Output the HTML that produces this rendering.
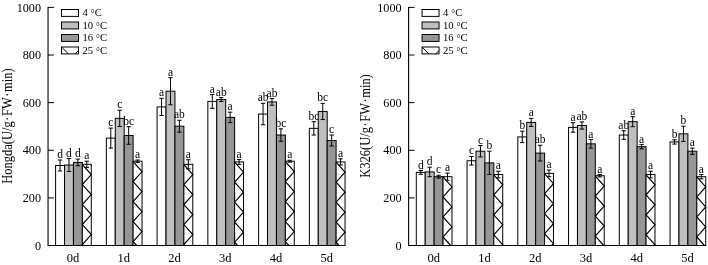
<!DOCTYPE html>
<html><head><meta charset="utf-8"><title>chart</title>
<style>html,body{margin:0;padding:0;background:#fff}svg{display:block}text{font-family:"Liberation Serif",serif;fill:#000}</style></head><body>
<svg width="708" height="265" viewBox="0 0 708 265">
<rect width="708" height="265" fill="#fff"/>
<rect x="55.60" y="165.50" width="8.92" height="80.00" fill="#ffffff" stroke="#000" stroke-width="1"/>
<path d="M60.06 160.02V170.97M57.86 160.02h4.4M57.86 170.97h4.4" stroke="#000" stroke-width="1" fill="none"/>
<text x="60.06" y="158.02" font-size="11.5" text-anchor="middle">d</text>
<rect x="64.52" y="165.02" width="8.92" height="80.48" fill="#c0c0c0" stroke="#000" stroke-width="1"/>
<path d="M68.98 158.59V171.45M66.78 158.59h4.4M66.78 171.45h4.4" stroke="#000" stroke-width="1" fill="none"/>
<text x="68.98" y="156.59" font-size="11.5" text-anchor="middle">d</text>
<rect x="73.44" y="162.40" width="8.92" height="83.10" fill="#969696" stroke="#000" stroke-width="1"/>
<path d="M77.90 159.07V165.74M75.70 159.07h4.4M75.70 165.74h4.4" stroke="#000" stroke-width="1" fill="none"/>
<text x="77.90" y="157.07" font-size="11.5" text-anchor="middle">d</text>
<rect x="82.36" y="164.31" width="8.92" height="81.19" fill="#ffffff" stroke="#000" stroke-width="1"/>
<polyline fill="none" stroke="#000" stroke-width="1.15" points="82.36,164.61 91.28,174.61 82.36,184.61 91.28,194.61 82.36,204.61 91.28,214.61 82.36,224.61 91.28,234.61 82.36,244.61 83.16,245.50"/>
<path d="M86.82 161.21V167.40M84.62 161.21h4.4M84.62 167.40h4.4" stroke="#000" stroke-width="1" fill="none"/>
<text x="86.82" y="159.21" font-size="11.5" text-anchor="middle">a</text>
<text x="73.04" y="261.5" font-size="12.5" text-anchor="middle">0d</text>
<rect x="106.35" y="138.12" width="8.92" height="107.38" fill="#ffffff" stroke="#000" stroke-width="1"/>
<path d="M110.81 128.12V148.12M108.61 128.12h4.4M108.61 148.12h4.4" stroke="#000" stroke-width="1" fill="none"/>
<text x="110.81" y="126.12" font-size="11.5" text-anchor="middle">c</text>
<rect x="115.27" y="118.35" width="8.92" height="127.15" fill="#c0c0c0" stroke="#000" stroke-width="1"/>
<path d="M119.73 110.26V126.45M117.53 110.26h4.4M117.53 126.45h4.4" stroke="#000" stroke-width="1" fill="none"/>
<text x="119.73" y="108.26" font-size="11.5" text-anchor="middle">c</text>
<rect x="124.19" y="135.50" width="8.92" height="110.00" fill="#969696" stroke="#000" stroke-width="1"/>
<path d="M128.65 126.69V144.31M126.45 126.69h4.4M126.45 144.31h4.4" stroke="#000" stroke-width="1" fill="none"/>
<text x="128.65" y="124.69" font-size="11.5" text-anchor="middle">bc</text>
<rect x="133.11" y="161.21" width="8.92" height="84.29" fill="#ffffff" stroke="#000" stroke-width="1"/>
<polyline fill="none" stroke="#000" stroke-width="1.15" points="133.11,161.51 142.03,171.51 133.11,181.51 142.03,191.51 133.11,201.51 142.03,211.51 133.11,221.51 142.03,231.51 133.11,241.51 136.67,245.50"/>
<path d="M137.57 160.02V162.40M135.37 160.02h4.4M135.37 162.40h4.4" stroke="#000" stroke-width="1" fill="none"/>
<text x="137.57" y="158.02" font-size="11.5" text-anchor="middle">a</text>
<text x="123.79" y="261.5" font-size="12.5" text-anchor="middle">1d</text>
<rect x="157.10" y="106.93" width="8.92" height="138.57" fill="#ffffff" stroke="#000" stroke-width="1"/>
<path d="M161.56 98.35V115.50M159.36 98.35h4.4M159.36 115.50h4.4" stroke="#000" stroke-width="1" fill="none"/>
<text x="161.56" y="96.35" font-size="11.5" text-anchor="middle">a</text>
<rect x="166.02" y="91.21" width="8.92" height="154.29" fill="#c0c0c0" stroke="#000" stroke-width="1"/>
<path d="M170.48 77.64V104.78M168.28 77.64h4.4M168.28 104.78h4.4" stroke="#000" stroke-width="1" fill="none"/>
<text x="170.48" y="75.64" font-size="11.5" text-anchor="middle">a</text>
<rect x="174.94" y="126.21" width="8.92" height="119.29" fill="#969696" stroke="#000" stroke-width="1"/>
<path d="M179.40 120.26V132.16M177.20 120.26h4.4M177.20 132.16h4.4" stroke="#000" stroke-width="1" fill="none"/>
<text x="179.40" y="118.26" font-size="11.5" text-anchor="middle">ab</text>
<rect x="183.86" y="164.31" width="8.92" height="81.19" fill="#ffffff" stroke="#000" stroke-width="1"/>
<polyline fill="none" stroke="#000" stroke-width="1.15" points="183.86,164.61 192.78,174.61 183.86,184.61 192.78,194.61 183.86,204.61 192.78,214.61 183.86,224.61 192.78,234.61 183.86,244.61 184.66,245.50"/>
<path d="M188.32 159.78V168.83M186.12 159.78h4.4M186.12 168.83h4.4" stroke="#000" stroke-width="1" fill="none"/>
<text x="188.32" y="157.78" font-size="11.5" text-anchor="middle">a</text>
<text x="174.54" y="261.5" font-size="12.5" text-anchor="middle">2d</text>
<rect x="207.85" y="101.45" width="8.92" height="144.05" fill="#ffffff" stroke="#000" stroke-width="1"/>
<path d="M212.31 94.54V108.35M210.11 94.54h4.4M210.11 108.35h4.4" stroke="#000" stroke-width="1" fill="none"/>
<text x="212.31" y="92.54" font-size="11.5" text-anchor="middle">a</text>
<rect x="216.77" y="99.54" width="8.92" height="145.96" fill="#c0c0c0" stroke="#000" stroke-width="1"/>
<path d="M221.23 97.64V101.45M219.03 97.64h4.4M219.03 101.45h4.4" stroke="#000" stroke-width="1" fill="none"/>
<text x="221.23" y="95.64" font-size="11.5" text-anchor="middle">ab</text>
<rect x="225.69" y="117.40" width="8.92" height="128.10" fill="#969696" stroke="#000" stroke-width="1"/>
<path d="M230.15 112.16V122.64M227.95 112.16h4.4M227.95 122.64h4.4" stroke="#000" stroke-width="1" fill="none"/>
<text x="230.15" y="110.16" font-size="11.5" text-anchor="middle">a</text>
<rect x="234.61" y="161.93" width="8.92" height="83.57" fill="#ffffff" stroke="#000" stroke-width="1"/>
<polyline fill="none" stroke="#000" stroke-width="1.15" points="234.61,162.23 243.53,172.23 234.61,182.23 243.53,192.23 234.61,202.23 243.53,212.23 234.61,222.23 243.53,232.23 234.61,242.23 237.53,245.50"/>
<path d="M239.07 159.55V164.31M236.87 159.55h4.4M236.87 164.31h4.4" stroke="#000" stroke-width="1" fill="none"/>
<text x="239.07" y="157.55" font-size="11.5" text-anchor="middle">a</text>
<text x="225.29" y="261.5" font-size="12.5" text-anchor="middle">3d</text>
<rect x="258.60" y="114.07" width="8.92" height="131.43" fill="#ffffff" stroke="#000" stroke-width="1"/>
<path d="M263.06 103.35V124.78M260.86 103.35h4.4M260.86 124.78h4.4" stroke="#000" stroke-width="1" fill="none"/>
<text x="263.06" y="101.35" font-size="11.5" text-anchor="middle">ab</text>
<rect x="267.52" y="101.93" width="8.92" height="143.57" fill="#c0c0c0" stroke="#000" stroke-width="1"/>
<path d="M271.98 98.59V105.26M269.78 98.59h4.4M269.78 105.26h4.4" stroke="#000" stroke-width="1" fill="none"/>
<text x="271.98" y="96.59" font-size="11.5" text-anchor="middle">ab</text>
<rect x="276.44" y="135.02" width="8.92" height="110.48" fill="#969696" stroke="#000" stroke-width="1"/>
<path d="M280.90 128.83V141.21M278.70 128.83h4.4M278.70 141.21h4.4" stroke="#000" stroke-width="1" fill="none"/>
<text x="280.90" y="126.83" font-size="11.5" text-anchor="middle">bc</text>
<rect x="285.36" y="161.21" width="8.92" height="84.29" fill="#ffffff" stroke="#000" stroke-width="1"/>
<polyline fill="none" stroke="#000" stroke-width="1.15" points="285.36,161.51 294.28,171.51 285.36,181.51 294.28,191.51 285.36,201.51 294.28,211.51 285.36,221.51 294.28,231.51 285.36,241.51 288.92,245.50"/>
<path d="M289.82 160.26V162.16M287.62 160.26h4.4M287.62 162.16h4.4" stroke="#000" stroke-width="1" fill="none"/>
<text x="289.82" y="158.26" font-size="11.5" text-anchor="middle">a</text>
<text x="276.04" y="261.5" font-size="12.5" text-anchor="middle">4d</text>
<rect x="309.35" y="128.35" width="8.92" height="117.15" fill="#ffffff" stroke="#000" stroke-width="1"/>
<path d="M313.81 121.69V135.02M311.61 121.69h4.4M311.61 135.02h4.4" stroke="#000" stroke-width="1" fill="none"/>
<text x="313.81" y="119.69" font-size="11.5" text-anchor="middle">bc</text>
<rect x="318.27" y="111.45" width="8.92" height="134.05" fill="#c0c0c0" stroke="#000" stroke-width="1"/>
<path d="M322.73 103.35V119.55M320.53 103.35h4.4M320.53 119.55h4.4" stroke="#000" stroke-width="1" fill="none"/>
<text x="322.73" y="101.35" font-size="11.5" text-anchor="middle">bc</text>
<rect x="327.19" y="140.50" width="8.92" height="105.00" fill="#969696" stroke="#000" stroke-width="1"/>
<path d="M331.65 135.02V145.97M329.45 135.02h4.4M329.45 145.97h4.4" stroke="#000" stroke-width="1" fill="none"/>
<text x="331.65" y="133.02" font-size="11.5" text-anchor="middle">c</text>
<rect x="336.11" y="161.93" width="8.92" height="83.57" fill="#ffffff" stroke="#000" stroke-width="1"/>
<polyline fill="none" stroke="#000" stroke-width="1.15" points="336.11,162.23 345.03,172.23 336.11,182.23 345.03,192.23 336.11,202.23 345.03,212.23 336.11,222.23 345.03,232.23 336.11,242.23 339.03,245.50"/>
<path d="M340.57 158.83V165.02M338.37 158.83h4.4M338.37 165.02h4.4" stroke="#000" stroke-width="1" fill="none"/>
<text x="340.57" y="156.83" font-size="11.5" text-anchor="middle">a</text>
<text x="326.79" y="261.5" font-size="12.5" text-anchor="middle">5d</text>
<path d="M48.05 6.9V246.0" stroke="#000" stroke-width="1.1" fill="none"/>
<path d="M48.05 245.5H345.03" stroke="#000" stroke-width="1" fill="none"/>
<text x="41.05" y="249.60" font-size="12.2" text-anchor="end">0</text>
<path d="M48.05 197.88h5.9" stroke="#000" stroke-width="1" fill="none"/>
<text x="41.05" y="201.98" font-size="12.2" text-anchor="end">200</text>
<path d="M48.05 150.26h5.9" stroke="#000" stroke-width="1" fill="none"/>
<text x="41.05" y="154.36" font-size="12.2" text-anchor="end">400</text>
<path d="M48.05 102.64h5.9" stroke="#000" stroke-width="1" fill="none"/>
<text x="41.05" y="106.74" font-size="12.2" text-anchor="end">600</text>
<path d="M48.05 55.02h5.9" stroke="#000" stroke-width="1" fill="none"/>
<text x="41.05" y="59.12" font-size="12.2" text-anchor="end">800</text>
<path d="M48.05 7.40h5.9" stroke="#000" stroke-width="1" fill="none"/>
<text x="41.05" y="11.50" font-size="12.2" text-anchor="end">1000</text>
<text transform="translate(11.50 183.70) rotate(-90) scale(1,1.1)" font-size="12.5">Hongda(U/g<tspan dx="0.55">·</tspan><tspan dx="0.55">FW</tspan><tspan dx="0.55">·</tspan><tspan dx="0.55">min</tspan>)</text>
<rect x="61.50" y="9.50" width="17" height="6.9" fill="#ffffff" stroke="#000" stroke-width="1"/>
<text x="82.50" y="16.25" font-size="10.6">4 <tspan font-size="9.6" dx="0.2" dy="0.9">°</tspan><tspan dx="0.2" dy="-0.9">C</tspan></text>
<rect x="61.50" y="22.00" width="17" height="6.9" fill="#c0c0c0" stroke="#000" stroke-width="1"/>
<text x="82.50" y="28.75" font-size="10.6">10 <tspan font-size="9.6" dx="0.2" dy="0.9">°</tspan><tspan dx="0.2" dy="-0.9">C</tspan></text>
<rect x="61.50" y="34.50" width="17" height="6.9" fill="#969696" stroke="#000" stroke-width="1"/>
<text x="82.50" y="41.25" font-size="10.6">16 <tspan font-size="9.6" dx="0.2" dy="0.9">°</tspan><tspan dx="0.2" dy="-0.9">C</tspan></text>
<rect x="61.50" y="47.00" width="17" height="6.9" fill="#ffffff" stroke="#000" stroke-width="1"/>
<path d="M61.50 47.00l6.9 6.9M75.10 53.90l3.4 -3.4" stroke="#000" stroke-width="1" fill="none"/>
<text x="82.50" y="53.75" font-size="10.6">25 <tspan font-size="9.6" dx="0.2" dy="0.9">°</tspan><tspan dx="0.2" dy="-0.9">C</tspan></text>
<rect x="416.30" y="172.40" width="8.92" height="73.10" fill="#ffffff" stroke="#000" stroke-width="1"/>
<path d="M420.76 170.50V174.31M418.56 170.50h4.4M418.56 174.31h4.4" stroke="#000" stroke-width="1" fill="none"/>
<text x="420.76" y="168.50" font-size="11.5" text-anchor="middle">d</text>
<rect x="425.22" y="171.93" width="8.92" height="73.57" fill="#c0c0c0" stroke="#000" stroke-width="1"/>
<path d="M429.68 167.17V176.69M427.48 167.17h4.4M427.48 176.69h4.4" stroke="#000" stroke-width="1" fill="none"/>
<text x="429.68" y="165.17" font-size="11.5" text-anchor="middle">d</text>
<rect x="434.14" y="176.69" width="8.92" height="68.81" fill="#969696" stroke="#000" stroke-width="1"/>
<path d="M438.60 175.26V178.12M436.40 175.26h4.4M436.40 178.12h4.4" stroke="#000" stroke-width="1" fill="none"/>
<text x="438.60" y="173.26" font-size="11.5" text-anchor="middle">c</text>
<rect x="443.06" y="176.69" width="8.92" height="68.81" fill="#ffffff" stroke="#000" stroke-width="1"/>
<polyline fill="none" stroke="#000" stroke-width="1.15" points="443.06,176.99 451.98,186.99 443.06,196.99 451.98,206.99 443.06,216.99 451.98,226.99 443.06,236.99 450.65,245.50"/>
<path d="M447.52 173.12V180.26M445.32 173.12h4.4M445.32 180.26h4.4" stroke="#000" stroke-width="1" fill="none"/>
<text x="447.52" y="171.12" font-size="11.5" text-anchor="middle">a</text>
<text x="433.74" y="261.5" font-size="12.5" text-anchor="middle">0d</text>
<rect x="467.05" y="160.74" width="8.92" height="84.76" fill="#ffffff" stroke="#000" stroke-width="1"/>
<path d="M471.51 156.45V165.02M469.31 156.45h4.4M469.31 165.02h4.4" stroke="#000" stroke-width="1" fill="none"/>
<text x="471.51" y="154.45" font-size="11.5" text-anchor="middle">c</text>
<rect x="475.97" y="151.21" width="8.92" height="94.29" fill="#c0c0c0" stroke="#000" stroke-width="1"/>
<path d="M480.43 145.50V156.93M478.23 145.50h4.4M478.23 156.93h4.4" stroke="#000" stroke-width="1" fill="none"/>
<text x="480.43" y="143.50" font-size="11.5" text-anchor="middle">c</text>
<rect x="484.89" y="162.88" width="8.92" height="82.62" fill="#969696" stroke="#000" stroke-width="1"/>
<path d="M489.35 151.21V174.55M487.15 151.21h4.4M487.15 174.55h4.4" stroke="#000" stroke-width="1" fill="none"/>
<text x="489.35" y="149.21" font-size="11.5" text-anchor="middle">b</text>
<rect x="493.81" y="174.55" width="8.92" height="70.95" fill="#ffffff" stroke="#000" stroke-width="1"/>
<polyline fill="none" stroke="#000" stroke-width="1.15" points="493.81,174.85 502.73,184.85 493.81,194.85 502.73,204.85 493.81,214.85 502.73,224.85 493.81,234.85 502.73,244.85 502.15,245.50"/>
<path d="M498.27 171.21V177.88M496.07 171.21h4.4M496.07 177.88h4.4" stroke="#000" stroke-width="1" fill="none"/>
<text x="498.27" y="169.21" font-size="11.5" text-anchor="middle">a</text>
<text x="484.49" y="261.5" font-size="12.5" text-anchor="middle">1d</text>
<rect x="517.80" y="136.93" width="8.92" height="108.57" fill="#ffffff" stroke="#000" stroke-width="1"/>
<path d="M522.26 131.21V142.64M520.06 131.21h4.4M520.06 142.64h4.4" stroke="#000" stroke-width="1" fill="none"/>
<text x="522.26" y="129.21" font-size="11.5" text-anchor="middle">b</text>
<rect x="526.72" y="122.40" width="8.92" height="123.10" fill="#c0c0c0" stroke="#000" stroke-width="1"/>
<path d="M531.18 118.35V126.45M528.98 118.35h4.4M528.98 126.45h4.4" stroke="#000" stroke-width="1" fill="none"/>
<text x="531.18" y="116.35" font-size="11.5" text-anchor="middle">a</text>
<rect x="535.64" y="153.12" width="8.92" height="92.38" fill="#969696" stroke="#000" stroke-width="1"/>
<path d="M540.10 145.26V160.97M537.90 145.26h4.4M537.90 160.97h4.4" stroke="#000" stroke-width="1" fill="none"/>
<text x="540.10" y="143.26" font-size="11.5" text-anchor="middle">ab</text>
<rect x="544.56" y="173.36" width="8.92" height="72.14" fill="#ffffff" stroke="#000" stroke-width="1"/>
<polyline fill="none" stroke="#000" stroke-width="1.15" points="544.56,173.66 553.48,183.66 544.56,193.66 553.48,203.66 544.56,213.66 553.48,223.66 544.56,233.66 553.48,243.66 551.83,245.50"/>
<path d="M549.02 170.02V176.69M546.82 170.02h4.4M546.82 176.69h4.4" stroke="#000" stroke-width="1" fill="none"/>
<text x="549.02" y="168.02" font-size="11.5" text-anchor="middle">a</text>
<text x="535.24" y="261.5" font-size="12.5" text-anchor="middle">2d</text>
<rect x="568.55" y="127.40" width="8.92" height="118.10" fill="#ffffff" stroke="#000" stroke-width="1"/>
<path d="M573.01 122.64V132.16M570.81 122.64h4.4M570.81 132.16h4.4" stroke="#000" stroke-width="1" fill="none"/>
<text x="573.01" y="120.64" font-size="11.5" text-anchor="middle">a</text>
<rect x="577.47" y="125.50" width="8.92" height="120.00" fill="#c0c0c0" stroke="#000" stroke-width="1"/>
<path d="M581.93 121.93V129.07M579.73 121.93h4.4M579.73 129.07h4.4" stroke="#000" stroke-width="1" fill="none"/>
<text x="581.93" y="119.93" font-size="11.5" text-anchor="middle">ab</text>
<rect x="586.39" y="143.83" width="8.92" height="101.67" fill="#969696" stroke="#000" stroke-width="1"/>
<path d="M590.85 139.55V148.12M588.65 139.55h4.4M588.65 148.12h4.4" stroke="#000" stroke-width="1" fill="none"/>
<text x="590.85" y="137.55" font-size="11.5" text-anchor="middle">a</text>
<rect x="595.31" y="175.74" width="8.92" height="69.76" fill="#ffffff" stroke="#000" stroke-width="1"/>
<polyline fill="none" stroke="#000" stroke-width="1.15" points="595.31,176.04 604.23,186.04 595.31,196.04 604.23,206.04 595.31,216.04 604.23,226.04 595.31,236.04 603.75,245.50"/>
<path d="M599.77 174.55V176.93M597.57 174.55h4.4M597.57 176.93h4.4" stroke="#000" stroke-width="1" fill="none"/>
<text x="599.77" y="172.55" font-size="11.5" text-anchor="middle">a</text>
<text x="585.99" y="261.5" font-size="12.5" text-anchor="middle">3d</text>
<rect x="619.30" y="135.02" width="8.92" height="110.48" fill="#ffffff" stroke="#000" stroke-width="1"/>
<path d="M623.76 130.74V139.31M621.56 130.74h4.4M621.56 139.31h4.4" stroke="#000" stroke-width="1" fill="none"/>
<text x="623.76" y="128.74" font-size="11.5" text-anchor="middle">ab</text>
<rect x="628.22" y="121.69" width="8.92" height="123.81" fill="#c0c0c0" stroke="#000" stroke-width="1"/>
<path d="M632.68 116.69V126.69M630.48 116.69h4.4M630.48 126.69h4.4" stroke="#000" stroke-width="1" fill="none"/>
<text x="632.68" y="114.69" font-size="11.5" text-anchor="middle">a</text>
<rect x="637.14" y="146.69" width="8.92" height="98.81" fill="#969696" stroke="#000" stroke-width="1"/>
<path d="M641.60 144.55V148.83M639.40 144.55h4.4M639.40 148.83h4.4" stroke="#000" stroke-width="1" fill="none"/>
<text x="641.60" y="142.55" font-size="11.5" text-anchor="middle">a</text>
<rect x="646.06" y="174.55" width="8.92" height="70.95" fill="#ffffff" stroke="#000" stroke-width="1"/>
<polyline fill="none" stroke="#000" stroke-width="1.15" points="646.06,174.85 654.98,184.85 646.06,194.85 654.98,204.85 646.06,214.85 654.98,224.85 646.06,234.85 654.98,244.85 654.40,245.50"/>
<path d="M650.52 171.21V177.88M648.32 171.21h4.4M648.32 177.88h4.4" stroke="#000" stroke-width="1" fill="none"/>
<text x="650.52" y="169.21" font-size="11.5" text-anchor="middle">a</text>
<text x="636.74" y="261.5" font-size="12.5" text-anchor="middle">4d</text>
<rect x="670.05" y="141.93" width="8.92" height="103.57" fill="#ffffff" stroke="#000" stroke-width="1"/>
<path d="M674.51 139.78V144.07M672.31 139.78h4.4M672.31 144.07h4.4" stroke="#000" stroke-width="1" fill="none"/>
<text x="674.51" y="137.78" font-size="11.5" text-anchor="middle">b</text>
<rect x="678.97" y="133.83" width="8.92" height="111.67" fill="#c0c0c0" stroke="#000" stroke-width="1"/>
<path d="M683.43 126.21V141.45M681.23 126.21h4.4M681.23 141.45h4.4" stroke="#000" stroke-width="1" fill="none"/>
<text x="683.43" y="124.21" font-size="11.5" text-anchor="middle">b</text>
<rect x="687.89" y="151.21" width="8.92" height="94.29" fill="#969696" stroke="#000" stroke-width="1"/>
<path d="M692.35 148.12V154.31M690.15 148.12h4.4M690.15 154.31h4.4" stroke="#000" stroke-width="1" fill="none"/>
<text x="692.35" y="146.12" font-size="11.5" text-anchor="middle">a</text>
<rect x="696.81" y="176.69" width="8.92" height="68.81" fill="#ffffff" stroke="#000" stroke-width="1"/>
<polyline fill="none" stroke="#000" stroke-width="1.15" points="696.81,176.99 705.73,186.99 696.81,196.99 705.73,206.99 696.81,216.99 705.73,226.99 696.81,236.99 704.40,245.50"/>
<path d="M701.27 174.55V178.83M699.07 174.55h4.4M699.07 178.83h4.4" stroke="#000" stroke-width="1" fill="none"/>
<text x="701.27" y="172.55" font-size="11.5" text-anchor="middle">a</text>
<text x="687.49" y="261.5" font-size="12.5" text-anchor="middle">5d</text>
<path d="M408.6 6.9V246.0" stroke="#000" stroke-width="1.1" fill="none"/>
<path d="M408.6 245.5H705.73" stroke="#000" stroke-width="1" fill="none"/>
<text x="401.60" y="249.60" font-size="12.2" text-anchor="end">0</text>
<path d="M408.6 197.88h5.9" stroke="#000" stroke-width="1" fill="none"/>
<text x="401.60" y="201.98" font-size="12.2" text-anchor="end">200</text>
<path d="M408.6 150.26h5.9" stroke="#000" stroke-width="1" fill="none"/>
<text x="401.60" y="154.36" font-size="12.2" text-anchor="end">400</text>
<path d="M408.6 102.64h5.9" stroke="#000" stroke-width="1" fill="none"/>
<text x="401.60" y="106.74" font-size="12.2" text-anchor="end">600</text>
<path d="M408.6 55.02h5.9" stroke="#000" stroke-width="1" fill="none"/>
<text x="401.60" y="59.12" font-size="12.2" text-anchor="end">800</text>
<path d="M408.6 7.40h5.9" stroke="#000" stroke-width="1" fill="none"/>
<text x="401.60" y="11.50" font-size="12.2" text-anchor="end">1000</text>
<text transform="translate(370.30 177.70) rotate(-90) scale(1,1.1)" font-size="12.5">K326(U/g<tspan dx="0.55">·</tspan><tspan dx="0.55">FW</tspan><tspan dx="0.55">·</tspan><tspan dx="0.55">min</tspan>)</text>
<rect x="422.05" y="9.50" width="17" height="6.9" fill="#ffffff" stroke="#000" stroke-width="1"/>
<text x="443.05" y="16.25" font-size="10.6">4 <tspan font-size="9.6" dx="0.2" dy="0.9">°</tspan><tspan dx="0.2" dy="-0.9">C</tspan></text>
<rect x="422.05" y="22.00" width="17" height="6.9" fill="#c0c0c0" stroke="#000" stroke-width="1"/>
<text x="443.05" y="28.75" font-size="10.6">10 <tspan font-size="9.6" dx="0.2" dy="0.9">°</tspan><tspan dx="0.2" dy="-0.9">C</tspan></text>
<rect x="422.05" y="34.50" width="17" height="6.9" fill="#969696" stroke="#000" stroke-width="1"/>
<text x="443.05" y="41.25" font-size="10.6">16 <tspan font-size="9.6" dx="0.2" dy="0.9">°</tspan><tspan dx="0.2" dy="-0.9">C</tspan></text>
<rect x="422.05" y="47.00" width="17" height="6.9" fill="#ffffff" stroke="#000" stroke-width="1"/>
<path d="M422.05 47.00l6.9 6.9M435.65 53.90l3.4 -3.4" stroke="#000" stroke-width="1" fill="none"/>
<text x="443.05" y="53.75" font-size="10.6">25 <tspan font-size="9.6" dx="0.2" dy="0.9">°</tspan><tspan dx="0.2" dy="-0.9">C</tspan></text>
</svg></body></html>
